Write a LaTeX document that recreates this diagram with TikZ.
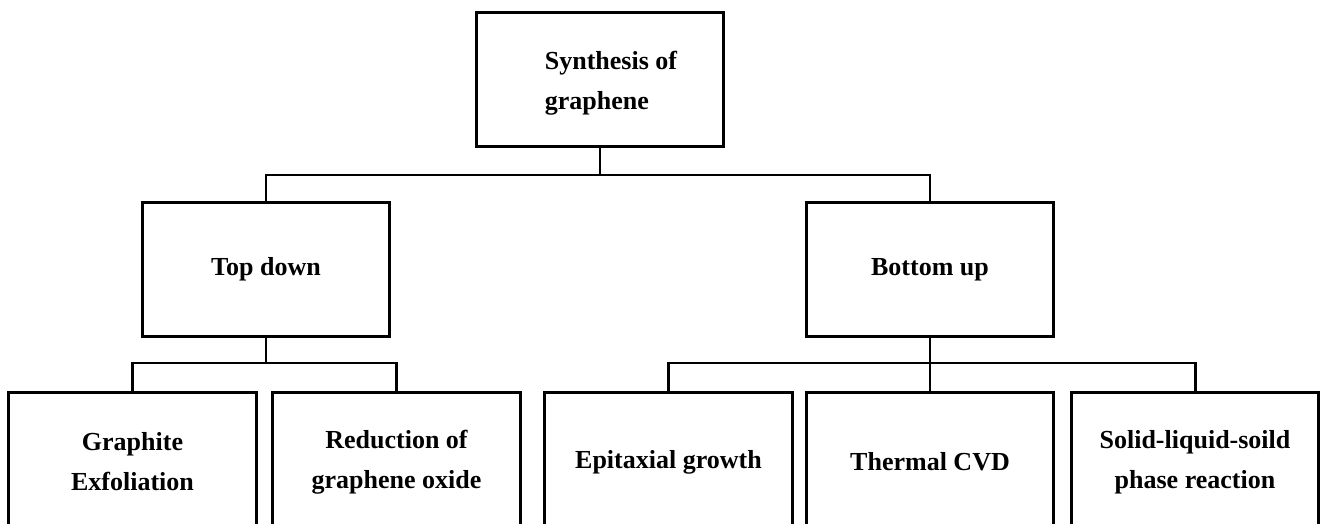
\documentclass[tikz,border=0pt]{standalone}
\usepackage{fontspec}
\setmainfont{Liberation Serif}
\usetikzlibrary{positioning,calc}

\begin{document}
\begin{tikzpicture}[
  x=0.02cm, y=-0.02cm,
  font=\bfseries\fontsize{14.8}{22.7}\selectfont,
  box/.style={draw, line width=1.7pt, align=center, inner sep=0pt,
              minimum width=4.96cm, minimum height=2.7cm},
  leaf/.style={box, minimum height=2.8cm},
  lbl/.style={inner sep=0pt, align=left},
  conn/.style={line width=1.7pt}]
\useasboundingbox (0,0) rectangle (1320,524);

% root
\node[box] (syn) at (600,79.5) {};
\node[lbl] (syn-txt) at (611,83) {Synthesis of\\graphene};

% two routes
\node[box] (td) at (266,269.5) {Top down};
\node[box] (bu) at (930,269.5) {Bottom up};
\coordinate (j1) at (600,175);
\draw[conn] (syn.south) -- (j1);
\draw[conn] (td.north) |- (j1) -| (bu.north);

% top down methods
\node[leaf] (ge) at (132.5,462) {Graphite\\Exfoliation};
\node[leaf] (rg) at (396.5,462) {Reduction of\\graphene oxide};
\coordinate (j2) at (266,363);
\draw[conn] (td.south) -- (j2);
\draw[conn] (ge.north) |- (j2) -| (rg.north);

% bottom up methods
\node[leaf] (eg) at (668.5,462) {Epitaxial growth};
\node[leaf] (tc) at (930,462) {Thermal CVD};
\node[leaf] (sl) at (1195,462) {Solid-liquid-soild\\phase reaction};
\coordinate (j3) at (930,363);
\draw[conn] (bu.south) -- (j3);
\draw[conn] (eg.north) |- (j3) -| (sl.north);
\draw[conn] (j3) -- (tc.north);
\end{tikzpicture}
\end{document}
